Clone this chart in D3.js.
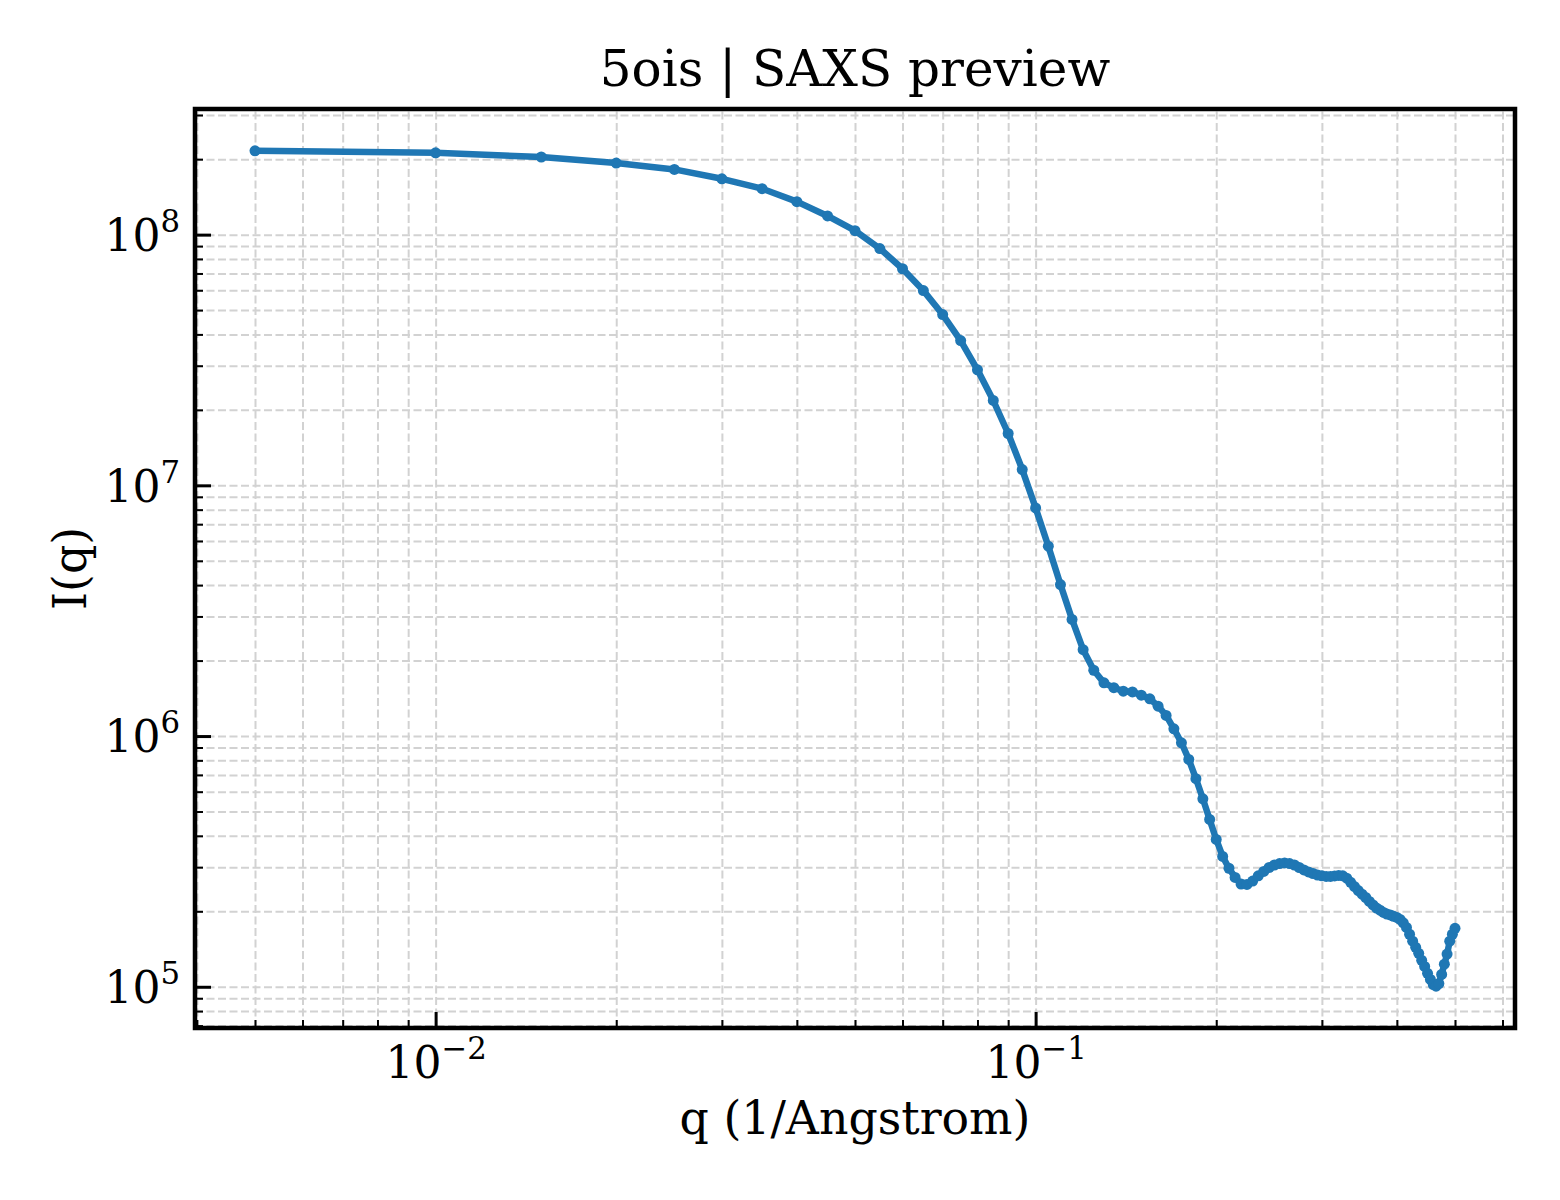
<!DOCTYPE html>
<html>
<head>
<meta charset="utf-8">
<script src="https://cdn.jsdelivr.net/npm/d3@7/dist/d3.min.js"></script>
<style>
  body { margin: 0; background: #fff; }
  svg text { font-family: "DejaVu Serif", serif; fill: #000; }
</style>
</head>
<body>
<div id="chart"></div>
<script>
// scattering vector q (1/Angstrom)
const qValues = [
  0.005, 0.010, 0.015, 0.020, 0.025, 0.030, 0.035, 0.040, 0.045, 0.050,
  0.055, 0.060, 0.065, 0.070, 0.075, 0.080, 0.085, 0.090, 0.095, 0.100,
  0.105, 0.110, 0.115, 0.120, 0.125, 0.130, 0.135, 0.140, 0.145, 0.150,
  0.155, 0.160, 0.165, 0.170, 0.175, 0.180, 0.185, 0.190, 0.195, 0.200,
  0.205, 0.210, 0.215, 0.220, 0.225, 0.230, 0.235, 0.240, 0.245, 0.250,
  0.255, 0.260, 0.265, 0.270, 0.275, 0.280, 0.285, 0.290, 0.295, 0.300,
  0.305, 0.310, 0.315, 0.320, 0.325, 0.330, 0.335, 0.340, 0.345, 0.350,
  0.355, 0.360, 0.365, 0.370, 0.375, 0.380, 0.385, 0.390, 0.395, 0.400,
  0.405, 0.410, 0.415, 0.420, 0.425, 0.430, 0.435, 0.440, 0.445, 0.450,
  0.455, 0.460, 0.465, 0.470, 0.475, 0.480, 0.485, 0.490, 0.495, 0.500
];
// intensity I(q)
const intensity = [
  2.16e8, 2.12e8, 2.04e8, 1.93e8, 1.82e8, 1.67e8, 1.525e8, 1.354e8, 1.187e8, 1.037e8,
  8.80e7, 7.31e7, 5.98e7, 4.80e7, 3.78e7, 2.89e7, 2.18e7, 1.61e7, 1.156e7, 8.13e6,
  5.72e6, 4.02e6, 2.92e6, 2.21e6, 1.83e6, 1.63e6, 1.56e6, 1.51e6, 1.50e6, 1.456e6,
  1.408e6, 1.316e6, 1.208e6, 1.069e6, 9.40e5, 8.07e5, 6.76e5, 5.62e5, 4.65e5, 3.87e5,
  3.31e5, 2.97e5, 2.73e5, 2.57e5, 2.56e5, 2.64e5, 2.77e5, 2.885e5, 2.99e5, 3.06e5,
  3.10e5, 3.12e5, 3.10e5, 3.06e5, 2.99e5, 2.925e5, 2.87e5, 2.83e5, 2.79e5, 2.77e5,
  2.756e5, 2.756e5, 2.768e5, 2.78e5, 2.77e5, 2.71e5, 2.61e5, 2.51e5, 2.42e5, 2.34e5,
  2.27e5, 2.19e5, 2.12e5, 2.06e5, 2.02e5, 1.98e5, 1.95e5, 1.935e5, 1.91e5, 1.89e5,
  1.857e5, 1.80e5, 1.725e5, 1.62e5, 1.52e5, 1.436e5, 1.36e5, 1.275e5, 1.206e5, 1.131e5,
  1.07e5, 1.02e5, 1.005e5, 1.03e5, 1.12e5, 1.23e5, 1.35e5, 1.52e5, 1.62e5, 1.71e5
];
const xMajorTicks = [1e-2, 1e-1];
const yMajorTicks = [1e5, 1e6, 1e7, 1e8];
const titleText = "5ois | SAXS preview";
const xLabel = "q (1/Angstrom)";
const yLabel = "I(q)";

const data = qValues.map((q, i) => ({ q: q, I: intensity[i] }));

// layout
const W = 1560, H = 1200;
const margin = { top: 109, right: 45, bottom: 172, left: 195 };
const width = W - margin.left - margin.right;
const height = H - margin.top - margin.bottom;
const lineColor = "#1f77b4";
const gridColor = "#d2d2d2";

// log domain with 5% padding (in log space)
function logPad(ext) {
  const a = Math.log10(ext[0]), b = Math.log10(ext[1]);
  const p = (b - a) * 0.05;
  return [Math.pow(10, a - p), Math.pow(10, b + p)];
}

const x = d3.scaleLog().domain(logPad(d3.extent(data, d => d.q))).range([0, width]);
const y = d3.scaleLog().domain(logPad(d3.extent(data, d => d.I))).range([height, 0]);

const svg = d3.select("#chart").append("svg")
  .attr("width", W).attr("height", H);
const g = svg.append("g").attr("transform", `translate(${margin.left},${margin.top})`);

const xAll = x.ticks();
const yAll = y.ticks();
const xMinor = xAll.filter(t => !xMajorTicks.some(m => Math.abs(m - t) / m < 1e-6));
const yMinor = yAll.filter(t => !yMajorTicks.some(m => Math.abs(m - t) / m < 1e-6));

// grid (major + minor)
g.append("g").attr("class", "xgrid")
  .attr("transform", `translate(0,${height})`)
  .call(d3.axisBottom(x).tickValues(xAll).tickSize(-height).tickFormat(""));
g.append("g").attr("class", "ygrid")
  .call(d3.axisLeft(y).tickValues(yAll).tickSize(-width).tickFormat(""));
g.selectAll(".xgrid .domain, .ygrid .domain").remove();
g.selectAll(".xgrid line, .ygrid line")
  .attr("stroke", gridColor)
  .attr("stroke-width", 2)
  .attr("stroke-dasharray", "8,3.5");

// curve
const line = d3.line().x(d => x(d.q)).y(d => y(d.I));
g.append("path")
  .datum(data)
  .attr("d", line)
  .attr("fill", "none")
  .attr("stroke", lineColor)
  .attr("stroke-width", 6.5)
  .attr("stroke-linejoin", "round");

g.selectAll(".pt")
  .data(data)
  .join("circle")
  .attr("class", "pt")
  .attr("cx", d => x(d.q))
  .attr("cy", d => y(d.I))
  .attr("r", 5.5)
  .attr("fill", lineColor);

// tick labels as 10^n
function powLabel(sel) {
  sel.each(function(d) {
    const t = d3.select(this);
    const e = Math.round(Math.log10(d));
    t.text(null);
    t.append("tspan").text("10");
    t.append("tspan")
      .attr("dy", "-0.62em")
      .attr("font-size", "0.7em")
      .text(e < 0 ? "\u2212" + Math.abs(e) : String(e));
  });
}

// minor ticks (inward)
const xMinAx = g.append("g").attr("transform", `translate(0,${height})`)
  .call(d3.axisBottom(x).tickValues(xMinor).tickSize(-8).tickFormat(""));
const yMinAx = g.append("g")
  .call(d3.axisLeft(y).tickValues(yMinor).tickSize(-8).tickFormat(""));
[xMinAx, yMinAx].forEach(a => {
  a.select(".domain").remove();
  a.selectAll("line").attr("stroke", "#000").attr("stroke-width", 2);
});

// major ticks (inward)
const xAx = g.append("g").attr("transform", `translate(0,${height})`)
  .call(d3.axisBottom(x).tickValues(xMajorTicks).tickSize(-16).tickPadding(17));
const yAx = g.append("g")
  .call(d3.axisLeft(y).tickValues(yMajorTicks).tickSize(-16).tickPadding(15));
[xAx, yAx].forEach(a => {
  a.select(".domain").remove();
  a.selectAll("line").attr("stroke", "#000").attr("stroke-width", 3);
  a.selectAll("text")
    .style("font-family", "'DejaVu Serif', serif")
    .attr("font-size", 44)
    .call(powLabel);
});
xAx.selectAll("text").attr("dy", "0.76em");
yAx.selectAll("text").attr("dy", "0.36em");

// frame
g.append("rect")
  .attr("width", width).attr("height", height)
  .attr("fill", "none")
  .attr("stroke", "#000")
  .attr("stroke-width", 4.5);

// texts
svg.append("text")
  .attr("x", margin.left + width / 2)
  .attr("y", 86)
  .attr("text-anchor", "middle")
  .attr("font-size", 50)
  .text(titleText);

svg.append("text")
  .attr("x", margin.left + width / 2)
  .attr("y", 1134)
  .attr("text-anchor", "middle")
  .attr("font-size", 45.8)
  .text(xLabel);

svg.append("text")
  .attr("transform", `translate(86,${margin.top + height / 2}) rotate(-90)`)
  .attr("text-anchor", "middle")
  .attr("font-size", 45.8)
  .text(yLabel);
</script>
</body>
</html>
